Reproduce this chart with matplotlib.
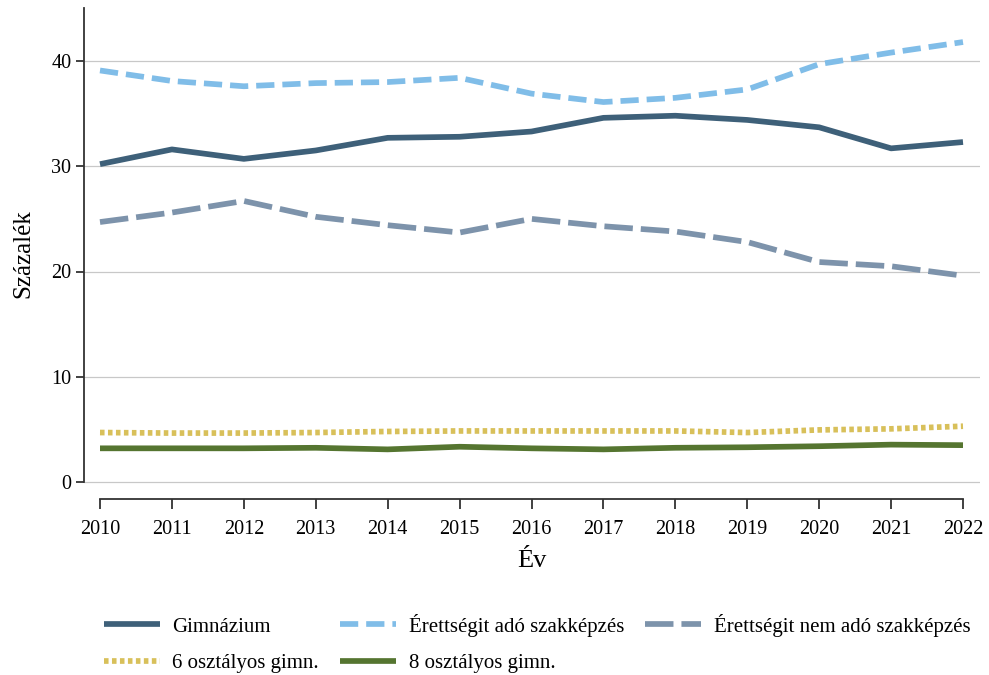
import matplotlib
matplotlib.use("Agg")
import matplotlib.pyplot as plt

years = list(range(2010, 2023))
gimnazium = [30.2, 31.6, 30.7, 31.5, 32.7, 32.8, 33.3, 34.6, 34.8, 34.4, 33.7, 31.7, 32.3]
erett_ado = [39.1, 38.1, 37.6, 37.9, 38.0, 38.4, 36.9, 36.1, 36.5, 37.3, 39.7, 40.8, 41.8]
erett_nem = [24.7, 25.6, 26.7, 25.2, 24.4, 23.7, 25.0, 24.3, 23.8, 22.8, 20.9, 20.5, 19.6]
hat_oszt = [4.7, 4.65, 4.65, 4.7, 4.8, 4.85, 4.85, 4.85, 4.85, 4.7, 4.95, 5.05, 5.3]
nyolc_oszt = [3.2, 3.2, 3.2, 3.25, 3.1, 3.35, 3.2, 3.1, 3.25, 3.3, 3.4, 3.55, 3.5]

labels = ["Gimnázium", "Érettségit adó szakképzés", "Érettségit nem adó szakképzés",
          "6 osztályos gimn.", "8 osztályos gimn."]
yticks = [0, 10, 20, 30, 40]

plt.rcParams['font.family'] = ['Liberation Serif', 'DejaVu Serif']

fig = plt.figure(figsize=(9.89, 6.75), dpi=100)
W, H = 989, 675
ax = fig.add_axes([84 / W, 1 - 499 / H, (980 - 84) / W, (499 - 8) / H])

lw = 4.1
l1, = ax.plot(years, gimnazium, color="#3e6079", lw=lw, solid_capstyle='butt')
l2, = ax.plot(years, erett_ado, color="#80bde8", lw=lw, dashes=(3.2, 1.4))
l3, = ax.plot(years, erett_nem, color="#7d93ab", lw=lw, dashes=(5.0, 1.4))
l4, = ax.plot(years, hat_oszt, color="#d8c05a", lw=lw, dashes=(0.8, 0.6))
l5, = ax.plot(years, nyolc_oszt, color="#557530", lw=lw, solid_capstyle='butt')

ax.set_xlim(2010 - 16 / 71.92, 2022 + 17 / 71.92)
ax.set_ylim((482 - 499) / 10.525, (482 - 8) / 10.525)
ax.set_yticks(yticks)
ax.set_xticks(years)
ax.yaxis.grid(True, color="#c8c8c8", lw=0.9)
ax.set_axisbelow(True)
for s in ["top", "right"]:
    ax.spines[s].set_visible(False)
ax.spines["left"].set_bounds(0, ax.get_ylim()[1])
ax.spines["bottom"].set_bounds(2010, 2022)
for s in ["left", "bottom"]:
    ax.spines[s].set_color("#333333")
    ax.spines[s].set_linewidth(1.3)
ax.tick_params(axis='y', length=6, width=1.3, labelsize=14.5, pad=3, color="#333333")
ax.tick_params(axis='x', length=7, width=1.3, labelsize=14.5, pad=8, color="#333333")
ax.set_ylabel("Százalék", fontsize=18, labelpad=12)
ax.set_xlabel("Év", fontsize=19, labelpad=8)

handles = [l1, l4, l2, l5, l3]
labs = [labels[0], labels[3], labels[1], labels[4], labels[2]]
fig.legend(handles, labs, ncol=3, loc="upper left", bbox_to_anchor=(85 / W, 1 - 595 / H),
           frameon=False, fontsize=15, handlelength=2.7, handletextpad=0.6,
           columnspacing=1.0, labelspacing=0.8)

fig.savefig("out.png", dpi=100)
